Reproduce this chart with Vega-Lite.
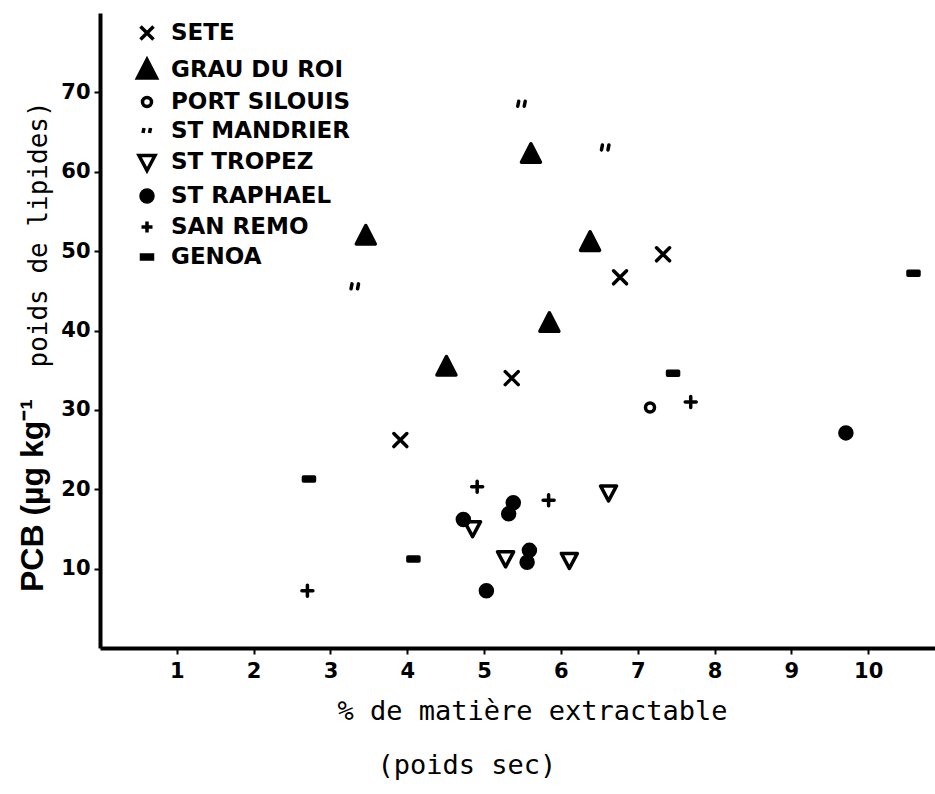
{
  "$schema": "https://vega.github.io/schema/vega-lite/v6.json",
  "autosize": "none",
  "width": 835,
  "height": 635,
  "padding": {"left": 100, "top": 13, "right": 0, "bottom": 146},
  "background": "white",
  "title": {
    "text": "PCB (µg kg⁻¹",
    "orient": "left",
    "frame": "group",
    "anchor": "start",
    "font": "Liberation Sans",
    "fontWeight": "bold",
    "fontSize": 32,
    "color": "black",
    "baseline": "alphabetic",
    "offset": -50,
    "dx": 56
  },
  "data": {
    "values": [
      {"site": "SETE", "x": 3.91, "y": 26.2},
      {"site": "SETE", "x": 5.36, "y": 34.0},
      {"site": "SETE", "x": 6.77, "y": 46.7},
      {"site": "SETE", "x": 7.33, "y": 49.6},
      {"site": "GRAU DU ROI", "x": 3.46, "y": 51.9},
      {"site": "GRAU DU ROI", "x": 4.51, "y": 35.4},
      {"site": "GRAU DU ROI", "x": 5.61, "y": 62.2},
      {"site": "GRAU DU ROI", "x": 5.85, "y": 40.9},
      {"site": "GRAU DU ROI", "x": 6.38, "y": 51.1},
      {"site": "PORT SILOUIS", "x": 7.16, "y": 30.3},
      {"site": "ST MANDRIER", "x": 3.32, "y": 45.5},
      {"site": "ST MANDRIER", "x": 5.49, "y": 68.5},
      {"site": "ST MANDRIER", "x": 6.58, "y": 63.0},
      {"site": "ST TROPEZ", "x": 4.85, "y": 15.1},
      {"site": "ST TROPEZ", "x": 5.28, "y": 11.3},
      {"site": "ST TROPEZ", "x": 6.11, "y": 11.1},
      {"site": "ST TROPEZ", "x": 6.62, "y": 19.6},
      {"site": "ST RAPHAEL", "x": 9.71, "y": 27.1},
      {"site": "ST RAPHAEL", "x": 5.03, "y": 7.2},
      {"site": "ST RAPHAEL", "x": 4.73, "y": 16.2},
      {"site": "ST RAPHAEL", "x": 5.38, "y": 18.3},
      {"site": "ST RAPHAEL", "x": 5.32, "y": 16.9},
      {"site": "ST RAPHAEL", "x": 5.59, "y": 12.3},
      {"site": "ST RAPHAEL", "x": 5.56, "y": 10.8},
      {"site": "SAN REMO", "x": 2.70, "y": 7.2},
      {"site": "SAN REMO", "x": 4.91, "y": 20.3},
      {"site": "SAN REMO", "x": 5.84, "y": 18.6},
      {"site": "SAN REMO", "x": 7.69, "y": 31.0},
      {"site": "GENOA", "x": 2.72, "y": 21.3},
      {"site": "GENOA", "x": 4.08, "y": 11.2},
      {"site": "GENOA", "x": 7.46, "y": 34.6},
      {"site": "GENOA", "x": 10.59, "y": 47.2}
    ]
  },
  "mark": {"type": "point", "filled": true, "strokeWidth": 3.5, "size": 400, "opacity": 1, "strokeJoin": "round", "strokeCap": "round"},
  "encoding": {
    "x": {
      "field": "x", "type": "quantitative",
      "scale": {"domain": [0, 10.87], "nice": false, "zero": false},
      "axis": {
        "values": [1, 2, 3, 4, 5, 6, 7, 8, 9, 10],
        "title": ["% de matière extractable", "\u2800\u2800(poids sec)"],
        "titleFont": "DejaVu Sans Mono",
        "titleFontSize": 27,
        "titleFontWeight": "normal",
        "titleAlign": "left",
        "titleAnchor": null,
        "titleX": 237,
        "titleY": 71,
        "titleBaseline": "alphabetic",
        "titleLineHeight": 54,
        "labelPadding": 6
      }
    },
    "y": {
      "field": "y", "type": "quantitative",
      "scale": {"domain": [0, 80], "nice": false, "zero": false},
      "axis": {
        "values": [10, 20, 30, 40, 50, 60, 70],
        "title": "poids de lipides)",
        "titleFont": "DejaVu Sans Mono",
        "titleFontSize": 26,
        "titleFontWeight": "normal",
        "titleAngle": 270,
        "titleAlign": "left",
        "titleAnchor": null,
        "titleBaseline": "alphabetic",
        "titleX": -54,
        "titleY": 354,
        "labelPadding": 4
      }
    },
    "shape": {
      "field": "site", "type": "nominal",
      "scale": {
        "domain": ["SETE", "GRAU DU ROI", "PORT SILOUIS", "ST MANDRIER", "ST TROPEZ", "ST RAPHAEL", "SAN REMO", "GENOA"],
        "range": [
          "M-0.65,-0.65L0.65,0.65M0.65,-0.65L-0.65,0.65",
          "M0,-1.05L0.95,0.8L-0.95,0.8Z",
          "M-0.45,0A0.45,0.45 0 1,0 0.45,0A0.45,0.45 0 1,0 -0.45,0Z",
          "M-0.3,-0.3L-0.4,0.2M0.35,-0.3L0.25,0.2",
          "M-0.8,-0.65L0.8,-0.65L0,0.85Z",
          "M-0.6,0A0.6,0.6 0 1,0 0.6,0A0.6,0.6 0 1,0 -0.6,0Z",
          "M-0.55,0L0.55,0M0,-0.55L0,0.55",
          "M-0.55,-0.2L0.55,-0.2L0.55,0.2L-0.55,0.2Z"
        ]
      },
      "legend": {"title": null, "labelLimit": 400}
    },
    "fill": {
      "field": "site", "type": "nominal",
      "scale": {
        "domain": ["SETE", "GRAU DU ROI", "PORT SILOUIS", "ST MANDRIER", "ST TROPEZ", "ST RAPHAEL", "SAN REMO", "GENOA"],
        "range": ["black", "black", "white", "black", "white", "black", "black", "black"]
      },
      "legend": {"title": null, "labelLimit": 400}
    },
    "stroke": {
      "field": "site", "type": "nominal",
      "scale": {
        "domain": ["SETE", "GRAU DU ROI", "PORT SILOUIS", "ST MANDRIER", "ST TROPEZ", "ST RAPHAEL", "SAN REMO", "GENOA"],
        "range": ["black", "black", "black", "black", "black", "black", "black", "black"]
      },
      "legend": {"title": null, "labelLimit": 400}
    }
  },
  "config": {
    "view": {"stroke": null},
    "axis": {
      "grid": false,
      "domainColor": "black",
      "domainWidth": 4,
      "tickColor": "black",
      "tickWidth": 2,
      "tickSize": 6,
      "labelFont": "DejaVu Sans",
      "labelFontWeight": "bold",
      "labelFontSize": 21,
      "labelColor": "black",
      "titleColor": "black"
    },
    "legend": {
      "orient": "none",
      "legendX": 35,
      "legendY": 8,
      "labelFont": "DejaVu Sans",
      "labelFontWeight": "bold",
      "labelFontSize": 23,
      "labelColor": "black",
      "labelLimit": 400,
      "labelOffset": 12,
      "rowPadding": 5,
      "symbolSize": 400,
      "symbolStrokeColor": "black",
      "symbolStrokeWidth": 3.5,
      "symbolOpacity": 1
    }
  }
}
